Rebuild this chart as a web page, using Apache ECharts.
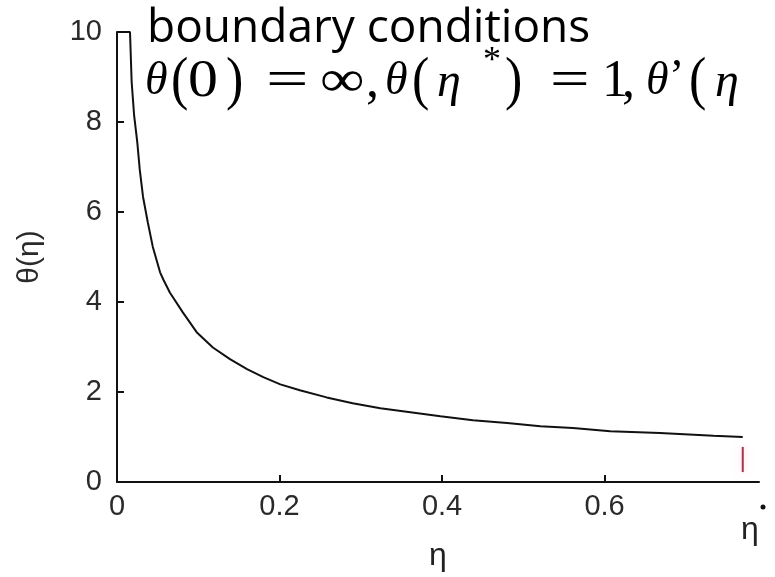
<!DOCTYPE html>
<html>
<head>
<meta charset="utf-8">
<script src="https://cdn.jsdelivr.net/npm/echarts@6/dist/echarts.min.js"></script>
<style>
  html, body { margin: 0; padding: 0; background: #fff; }
  #chart { width: 775px; height: 577px; }
</style>
</head>
<body>
<div id="chart"></div>
<script>
// θ(η) solution, capped at 10 near η = 0
const eta = [0, 0.016, 0.018, 0.021, 0.025, 0.028, 0.032, 0.038, 0.044, 0.053, 0.057, 0.065, 0.081, 0.098, 0.118, 0.139, 0.160, 0.180, 0.201, 0.225, 0.258, 0.290, 0.324, 0.361, 0.398, 0.438, 0.480, 0.521, 0.561, 0.607, 0.668, 0.734, 0.770];
const theta = [10, 10, 8.9, 8.16, 7.54, 6.94, 6.34, 5.76, 5.23, 4.66, 4.50, 4.21, 3.77, 3.33, 2.99, 2.73, 2.51, 2.33, 2.17, 2.04, 1.88, 1.75, 1.64, 1.55, 1.46, 1.37, 1.31, 1.24, 1.20, 1.13, 1.09, 1.03, 1.00];

// red marker at η*
const markEta = [0.770, 0.770];
const markTheta = [0.22, 0.78];

// axis settings
const xMin = 0, xMax = 0.79, xStep = 0.2;
const yMin = 0, yMax = 10, yStep = 2;

const tickFont = 'Liberation Sans';
const mathFont = '"Liberation Serif", "DejaVu Serif", serif';

const chart = echarts.init(document.getElementById('chart'), null, { renderer: 'canvas' });

const curve = eta.map((e, i) => [e, theta[i]]);
const mark = markEta.map((e, i) => [e, markTheta[i]]);

// one glyph run of the boundary-condition formula
function piece(text, x, y, size, opts) {
  opts = opts || {};
  return {
    type: 'text', x: x, y: y,
    scaleX: opts.sx || 1, scaleY: opts.sy || 1,
    style: {
      text: text,
      font: (opts.italic ? 'italic ' : '') + size + 'px ' + mathFont,
      fill: '#000'
    }
  };
}

chart.setOption({
  animation: false,
  backgroundColor: '#fff',
  grid: { left: 117, right: 16, top: 32, bottom: 94, containLabel: false },
  xAxis: {
    type: 'value', min: xMin, max: xMax, interval: xStep,
    name: 'η', nameLocation: 'middle', nameGap: 58,
    nameTextStyle: { fontFamily: tickFont, fontSize: 32, color: '#222' },
    axisLine: { show: true, onZero: false, lineStyle: { color: '#111', width: 2 } },
    axisTick: { show: true, inside: true, length: 7, lineStyle: { color: '#111', width: 2 } },
    axisLabel: {
      showMaxLabel: false, margin: 10,
      fontFamily: tickFont, fontSize: 29, color: '#2a2a2a',
      formatter: v => (v === 0 ? '0' : String(+v.toFixed(1)))
    },
    splitLine: { show: false }
  },
  yAxis: {
    type: 'value', min: yMin, max: yMax, interval: yStep,
    name: 'θ(η)', nameLocation: 'middle', nameGap: 72, nameRotate: 90,
    nameTextStyle: { fontFamily: tickFont, fontSize: 30, color: '#2a2a2a' },
    axisLine: { show: true, lineStyle: { color: '#111', width: 2 } },
    axisTick: { show: true, inside: true, length: 7, lineStyle: { color: '#111', width: 2 } },
    axisLabel: {
      margin: 15, fontFamily: tickFont, fontSize: 29, color: '#2a2a2a',
      padding: [0, 0, 8, 0]
    },
    splitLine: { show: false }
  },
  series: [
    {
      type: 'line', data: curve, showSymbol: false, smooth: false, clip: true,
      lineStyle: { color: '#111', width: 2 }
    },
    {
      type: 'line', data: mark, showSymbol: false, clip: false,
      lineStyle: { color: '#a8324c', width: 2, shadowColor: 'rgba(255,170,190,0.7)', shadowBlur: 8 }
    }
  ],
  graphic: [
    { type: 'text', left: 147, top: 6,
      style: { text: 'boundary conditions', font: '46px "Open Sans"', fill: '#000' } },
    // θ(0) = ∞, θ(η*) = 1, θ'(η
    piece('θ', 145, 59, 46, { italic: true }),
    piece('(', 171, 52, 52, { sy: 1.15 }),
    piece('0', 188, 56, 52, { sx: 1.15 }),
    piece(')', 226, 52, 52, { sy: 1.15 }),
    piece('=', 266, 56, 52, { sx: 1.45 }),
    piece('∞', 320, 56, 52, { sx: 1.2 }),
    piece(',', 366, 56, 52),
    piece('θ', 385, 59, 46, { italic: true }),
    piece('(', 412, 52, 52, { sy: 1.15 }),
    piece('η', 437, 59, 48, { italic: true }),
    piece('*', 483, 44, 36),
    piece(')', 505, 52, 52, { sy: 1.15 }),
    piece('=', 550, 56, 52, { sx: 1.35 }),
    piece('1', 602, 56, 52),
    piece(',', 622, 56, 52),
    piece('θ', 646, 59, 46, { italic: true }),
    piece('’', 669, 56, 46),
    piece('(', 689, 52, 52, { sy: 1.15 }),
    piece('η', 715, 59, 48, { italic: true }),
    // η* label beside the axis end
    { type: 'text', x: 741, y: 514, style: { text: 'η', font: '32px ' + tickFont, fill: '#222' } },
    { type: 'circle', shape: { cx: 763, cy: 507, r: 2.5 }, style: { fill: '#111' } }
  ]
});
</script>
</body>
</html>
